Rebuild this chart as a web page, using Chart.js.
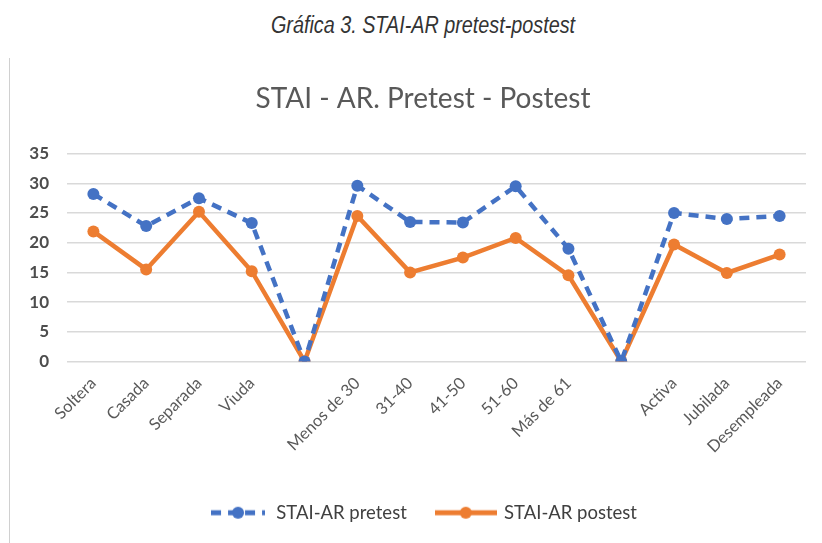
<!DOCTYPE html>
<html>
<head>
<meta charset="utf-8">
<script src="https://cdn.jsdelivr.net/npm/chart.js@4"></script>
<style>
    body { margin: 0; background: #fff; width: 822px; height: 543px; overflow: hidden; position: relative; }
    #caption {
        position: absolute; left: 0; top: 12px; width: 846px; text-align: center;
        font-family: "Liberation Sans", Arial, sans-serif;
        font-style: italic; font-size: 23px; color: #333;
        transform: scaleX(0.86); transform-origin: 423px 0;
    }
    #box {
        position: absolute; left: 9px; top: 58px; width: 816px; height: 485px;
        border-left: 1px solid #d0d0d0;
    }
</style>
</head>
<body>
<div id="caption">Gráfica 3. STAI-AR pretest-postest</div>
<div id="box"><canvas id="grafica"></canvas></div>
<script>
const categorias = ["Soltera", "Casada", "Separada", "Viuda", "", "Menos de 30", "31-40", "41-50", "51-60", "Más de 61", "", "Activa", "Jubilada", "Desempleada"];
const pretest = [28.2, 22.8, 27.5, 23.3, 0, 29.6, 23.5, 23.4, 29.5, 19.0, 0, 25.0, 24.0, 24.5];
const postest = [21.9, 15.5, 25.2, 15.2, 0, 24.5, 15.0, 17.5, 20.8, 14.5, 0, 19.7, 14.9, 18.0];
const ticksY = [0, 5, 10, 15, 20, 25, 30, 35];
const azul = "#4472C4";
const naranja = "#ED7D31";

// simbolo de leyenda: linea con punto
function simbolo(color, dash, ancho) {
    const c = document.createElement("canvas");
    c.width = ancho; c.height = 14;
    const g = c.getContext("2d");
    g.strokeStyle = color;
    g.lineWidth = 5;
    g.setLineDash(dash);
    g.beginPath();
    g.moveTo(0, 7); g.lineTo(ancho, 7);
    g.stroke();
    g.fillStyle = color;
    g.beginPath();
    g.arc(ancho / 2, 7, 6, 0, Math.PI * 2);
    g.fill();
    return c;
}

document.addEventListener("DOMContentLoaded", function () {
    const ctx = document.getElementById("grafica").getContext("2d");
    new Chart(ctx, {
        type: "line",
        data: {
            labels: categorias,
            datasets: [{
                label: "STAI-AR pretest",
                data: pretest,
                borderColor: azul,
                backgroundColor: azul,
                borderWidth: 4.5,
                borderDash: [10, 7],
                pointRadius: 6,
                pointBorderWidth: 0,
                legendSym: simbolo(azul, [10, 7], 54)
            }, {
                label: "STAI-AR postest",
                data: postest,
                borderColor: naranja,
                backgroundColor: naranja,
                borderWidth: 4.5,
                pointRadius: 6,
                pointBorderWidth: 0,
                legendSym: simbolo(naranja, [], 62)
            }]
        },
        options: {
            responsive: true,
            maintainAspectRatio: false,
            animation: false,
            layout: { padding: { left: 10, right: 0, top: 0, bottom: 11 } },
            plugins: {
                title: {
                    display: true,
                    text: "STAI - AR. Pretest - Postest",
                    color: "#595959",
                    font: { family: "Lato, 'Open Sans', sans-serif", size: 28, weight: "normal" },
                    padding: { top: 24, bottom: 38 }
                },
                legend: {
                    position: "bottom",
                    labels: {
                        usePointStyle: true,
                        pointStyleWidth: 58,
                        color: "#404040",
                        font: { family: "Lato, 'Open Sans', sans-serif", size: 18.5 },
                        padding: 30,
                        generateLabels: function (chart) {
                            return chart.data.datasets.map(function (ds, i) {
                                return {
                                    text: ds.label,
                                    pointStyle: ds.legendSym,
                                    fontColor: "#404040",
                                    datasetIndex: i,
                                    hidden: false,
                                    lineWidth: 0
                                };
                            });
                        }
                    }
                },
                tooltip: { enabled: false }
            },
            scales: {
                x: {
                    offset: true,
                    grid: { display: false },
                    border: { display: false },
                    afterFit: function (scale) { scale.height = 112; },
                    ticks: {
                        minRotation: 45,
                        maxRotation: 45,
                        autoSkip: false,
                        color: "#595959",
                        padding: 4,
                        font: { family: "Lato, 'Open Sans', sans-serif", size: 16.5 }
                    }
                },
                y: {
                    min: ticksY[0],
                    max: ticksY[ticksY.length - 1],
                    border: { display: false },
                    grid: { color: "#d9d9d9", lineWidth: 1.5, drawTicks: false },
                    afterFit: function (scale) { scale.width = 47; },
                    ticks: {
                        stepSize: 5,
                        color: "#4d4d4d",
                        padding: 18,
                        font: { family: "Lato, 'Open Sans', sans-serif", size: 17, weight: "bold" }
                    }
                },
                // margen derecho vacio
                derecha: {
                    position: "right",
                    grid: { display: false },
                    border: { display: false },
                    ticks: { display: false },
                    afterFit: function (scale) { scale.width = 20; }
                }
            }
        }
    });
});
</script>
</body>
</html>
